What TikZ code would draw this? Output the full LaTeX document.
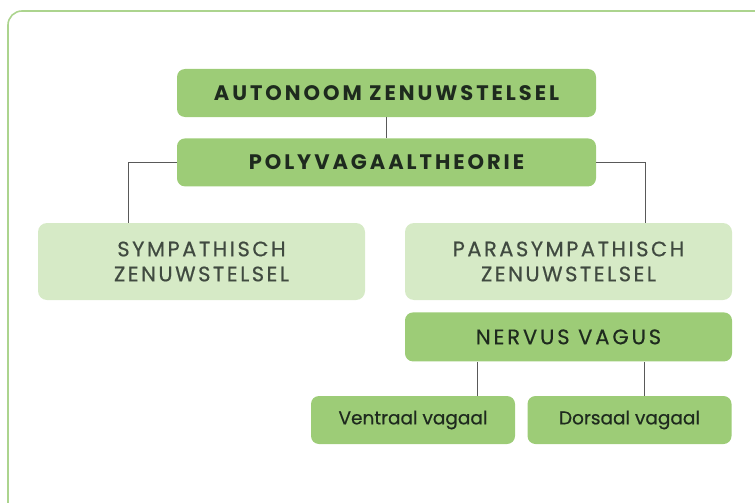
\documentclass[tikz,border=0pt]{standalone}
\usepackage{fontspec}
\setmainfont{Poppins}
\usetikzlibrary{positioning}

\definecolor{darkleaf}{RGB}{157,204,119}
\definecolor{paleleaf}{RGB}{214,234,198}
\definecolor{frameleaf}{RGB}{172,212,142}
\definecolor{inkgreen}{RGB}{30,42,30}

\begin{document}
\begin{tikzpicture}[
  x=1pt, y=-1pt,
  topbox/.style={rectangle, rounded corners=8pt, fill=darkleaf, text=inkgreen, minimum width=419pt, minimum height=48pt, inner sep=0pt, font=\fontsize{21}{24}\selectfont\bfseries\addfontfeatures{LetterSpace=14}},
  sidebox/.style={rectangle, rounded corners=9pt, fill=paleleaf, text=inkgreen!85, minimum width=327pt, minimum height=77pt, inner sep=0pt, align=center, font=\fontsize{21}{25}\selectfont\addfontfeatures{LetterSpace=12, FakeBold=0.5}},
  vagusbox/.style={rectangle, rounded corners=8pt, fill=darkleaf, text=inkgreen, minimum width=327pt, minimum height=49pt, inner sep=0pt, font=\fontsize{21}{24}\selectfont\addfontfeatures{LetterSpace=14, FakeBold=0.5}},
  leafbox/.style={rectangle, rounded corners=8pt, fill=darkleaf, text=inkgreen, minimum width=204pt, minimum height=48pt, inner sep=0pt, font=\fontsize{18.5}{22}\selectfont\addfontfeatures{FakeBold=0.5}},
  link/.style={draw=black!65, line width=1pt}
]
\useasboundingbox (0,0) rectangle (755,503);
\begin{scope}
\clip (0,0) rectangle (755,503);
\draw[frameleaf, line width=1.6pt, rounded corners=14pt] (8,11) rectangle (790,540);
\end{scope}

\node[topbox] (auto) at (386.5,93) {AUTONOOM ZENUWSTELSEL};
\node[topbox, below=21pt of auto] (poly) {POLYVAGAALTHEORIE};

\node[sidebox] (symp) at (201.5,261.5) {SYMPATHISCH\\ZENUWSTELSEL};
\node[sidebox] (para) at (568.5,261.5) {PARASYMPATHISCH\\ZENUWSTELSEL};
\node[vagusbox, below=12pt of para] (vagus) {NERVUS VAGUS};

\node[leafbox] (ventraal) at (413,420) {Ventraal vagaal};
\node[leafbox] (dorsaal) at (629.5,420) {Dorsaal vagaal};

\draw[link] (auto) -- (poly);
\draw[link] (poly.west) -| ([xshift=-73.5pt]symp.north);
\draw[link] (poly.east) -| ([xshift=76.5pt]para.north);
\draw[link] ([xshift=64pt]ventraal.north) -- ([xshift=64pt]ventraal.north |- vagus.south);
\draw[link] ([xshift=14.5pt]dorsaal.north) -- ([xshift=14.5pt]dorsaal.north |- vagus.south);

\end{tikzpicture}
\end{document}
